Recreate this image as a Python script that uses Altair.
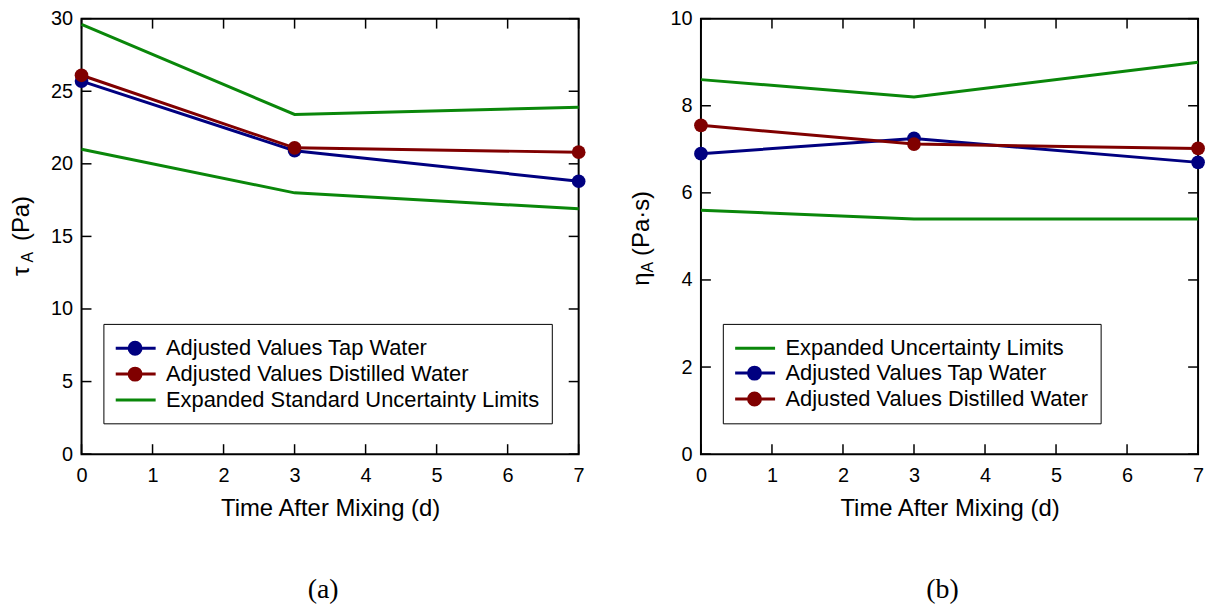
import altair as alt
import pandas as pd

# ---------------- data ----------------
days = [0, 3, 7]
x_ticks = [0, 1, 2, 3, 4, 5, 6, 7]

# panel (a): tau_A (Pa)
tau_tap = [25.7, 20.9, 18.8]
tau_dist = [26.1, 21.1, 20.8]
tau_upper = [29.6, 23.4, 23.9]
tau_lower = [21.0, 18.0, 16.9]
tau_ticks = [0, 5, 10, 15, 20, 25, 30]

# panel (b): eta_A (Pa.s)
eta_tap = [6.9, 7.25, 6.7]
eta_dist = [7.55, 7.12, 7.02]
eta_upper = [8.6, 8.2, 9.0]
eta_lower = [5.6, 5.4, 5.4]
eta_ticks = [0, 2, 4, 6, 8, 10]

TAP = "Adjusted Values Tap Water"
DIST = "Adjusted Values Distilled Water"
LIM_A = "Expanded Standard Uncertainty Limits"
LIM_B = "Expanded Uncertainty Limits"

title_a = ["τ", "A", "(Pa)"]
title_b = ["η", "A", "(Pa·s)"]

BLUE = "#000080"
RED = "#800000"
GREEN = "#0a870a"

FONT = "Liberation Sans"

# legend symbols: a line segment with (or without) a dot
SYM_DOT = "M-1.1,0L2.55,0M0.125,0A0.545,0.545,0,1,0,1.215,0A0.545,0.545,0,1,0,0.125,0Z"
SYM_LINE = "M-1.1,0L2.55,0"

W, H = 500, 438
TICK = 10


def text_piece(s, x, y, size):
    return alt.Chart(pd.DataFrame({"s": [s]})).mark_text(
        angle=270, align="center", baseline="alphabetic", font=FONT,
        fontSize=size, color="black"
    ).encode(text="s:N", x=alt.value(x), y=alt.value(y))


def panel(tap, dist, upper, lower, lim_label, order, y_ticks, ytitle, ypos, caption):
    rows = []
    for name, grp, vals in [(TAP, "tap", tap), (DIST, "dist", dist),
                            (lim_label, "upper", upper), (lim_label, "lower", lower)]:
        for d, v in zip(days, vals):
            rows.append({"t": d, "v": v, "series": name, "grp": grp})
    df = pd.DataFrame(rows)

    colors = {TAP: BLUE, DIST: RED, lim_label: GREEN}
    shapes = {TAP: SYM_DOT, DIST: SYM_DOT, lim_label: SYM_LINE}
    rng = [colors[s] for s in order]
    shp = [shapes[s] for s in order]
    ymax = y_ticks[-1]

    x = alt.X("t:Q", scale=alt.Scale(domain=[0, 7], nice=False),
              axis=alt.Axis(values=x_ticks, title="Time After Mixing (d)", labelPadding=12,
                            titlePadding=11, format="d", labelFlush=False))
    y = alt.Y("v:Q", scale=alt.Scale(domain=[0, ymax], nice=False),
              axis=alt.Axis(values=y_ticks, title=None, labelPadding=9, format="d",
                            labelFlush=False))

    fill_scale = alt.Scale(domain=order, range=rng)
    stroke_scale = alt.Scale(domain=order, range=rng)
    legend = alt.Legend(
        orient="none", legendX=22, legendY=307, title=None,
        strokeColor="black", fillColor="white", padding=12,
        labelFont=FONT, labelFontSize=22, labelColor="black", labelLimit=700,
        labelOffset=26, symbolSize=484, symbolStrokeWidth=3, symbolOpacity=1,
        rowPadding=1,
    )
    leg = alt.Chart(df).transform_filter("false").mark_point(filled=True).encode(
        x=x, y=y,
        fill=alt.Fill("series:N", scale=fill_scale, legend=legend),
        stroke=alt.Stroke("series:N", scale=stroke_scale, legend=legend),
        shape=alt.Shape("series:N", scale=alt.Scale(domain=order, range=shp), legend=legend),
    )
    lines = alt.Chart(df).mark_line(strokeWidth=3).encode(
        x=x, y=y,
        stroke=alt.Stroke("series:N", scale=stroke_scale, legend=None),
        detail="grp:N",
    )
    pts = alt.Chart(df).transform_filter(
        alt.FieldOneOfPredicate(field="grp", oneOf=["tap", "dist"])
    ).mark_circle(size=190, opacity=1).encode(
        x=x, y=y,
        fill=alt.Fill("series:N", scale=fill_scale, legend=None),
    )

    # inward tick marks on all four sides
    xt = pd.DataFrame({"t": x_ticks})
    yt = pd.DataFrame({"v": y_ticks})
    xs = alt.X("t:Q", scale=alt.Scale(domain=[0, 7], nice=False))
    ys = alt.Y("v:Q", scale=alt.Scale(domain=[0, ymax], nice=False))
    rule = dict(color="black", strokeWidth=1.5)
    tb = alt.Chart(xt).mark_rule(**rule).encode(x=xs, y=alt.value(H), y2=alt.value(H - TICK))
    tt = alt.Chart(xt).mark_rule(**rule).encode(x=xs, y=alt.value(0), y2=alt.value(TICK))
    tl = alt.Chart(yt).mark_rule(**rule).encode(y=ys, x=alt.value(0), x2=alt.value(TICK))
    tr = alt.Chart(yt).mark_rule(**rule).encode(y=ys, x=alt.value(W), x2=alt.value(W - TICK))

    # y-axis title with subscript
    (bx, y_main, y_sub, y_unit) = ypos
    t1 = text_piece(ytitle[0], bx, y_main, 24)
    t2 = text_piece(ytitle[1], bx + 4, y_sub, 16)
    t3 = text_piece(ytitle[2], bx, y_unit, 24)

    return alt.layer(leg, tb, tt, tl, tr, lines, pts, t1, t2, t3).properties(
        width=W, height=H,
        title=alt.TitleParams(caption, orient="bottom", anchor="middle", frame="group",
                              font="Liberation Serif", fontSize=28, fontWeight="normal",
                              color="black", offset=56, dx=-7),
    )


pa = panel(tau_tap, tau_dist, tau_upper, tau_lower, LIM_A, [TAP, DIST, LIM_A],
           tau_ticks, title_a, (-53, 254, 240, 201), "(a)")
pb = panel(eta_tap, eta_dist, eta_upper, eta_lower, LIM_B, [LIM_B, TAP, DIST],
           eta_ticks, title_b, (-52, 262, 250, 206), "(b)")

chart = alt.hconcat(pa, pb, spacing=43).resolve_scale(
    fill="independent", stroke="independent", shape="independent"
).resolve_legend(
    fill="independent", stroke="independent", shape="independent"
).properties(
    padding={"left": 9, "top": 6, "right": 5, "bottom": 5},
    background="white",
).configure_view(
    stroke="black", strokeWidth=2
).configure_axis(
    labelFont=FONT, labelFontSize=20, labelColor="black",
    titleFont=FONT, titleFontSize=24, titleFontWeight="normal", titleColor="black",
    ticks=False, domain=False, grid=False,
)

chart.save("out.html", embed_options={"renderer": "svg", "actions": False})
